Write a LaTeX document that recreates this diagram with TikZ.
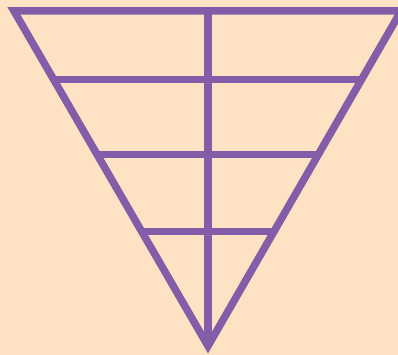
\documentclass[tikz,border=0pt]{standalone}
\usepackage{xcolor}
\usepackage{tikz}
\usetikzlibrary{calc}
\definecolor{peach}{RGB}{253,226,196}
\definecolor{funnel}{RGB}{131,93,167}
\tikzset{
  rung/.style={draw=funnel, line width=7.5pt},
  frame/.style={draw=funnel, line width=7.5pt, line join=miter},
}

\begin{document}
\begin{tikzpicture}[x=1pt, y=-1pt]
  % background and bounding box
  \fill[peach] (0,0) rectangle (398,355);
  \useasboundingbox (0,0) rectangle (398,355);

  \coordinate (TL) at (14,11);
  \coordinate (TR) at (401,11);
  \coordinate (B)  at (208,346);
  \coordinate (TM) at (208,11);

  % horizontal rungs
  \foreach \y/\name in {79.5/one, 154.5/two, 231.5/three}{
    \coordinate (L\name) at ($(TL)!{(\y-11)/335}!(B)$);
    \coordinate (R\name) at ($(TR)!{(\y-11)/335}!(B)$);
    \draw[rung] (L\name) -- (R\name);
  }

  % centre line
  \draw[rung] (TM) -- (B);

  % triangle
  \draw[frame] (TL) -- (TR) -- (B) -- cycle;
\end{tikzpicture}
\end{document}
